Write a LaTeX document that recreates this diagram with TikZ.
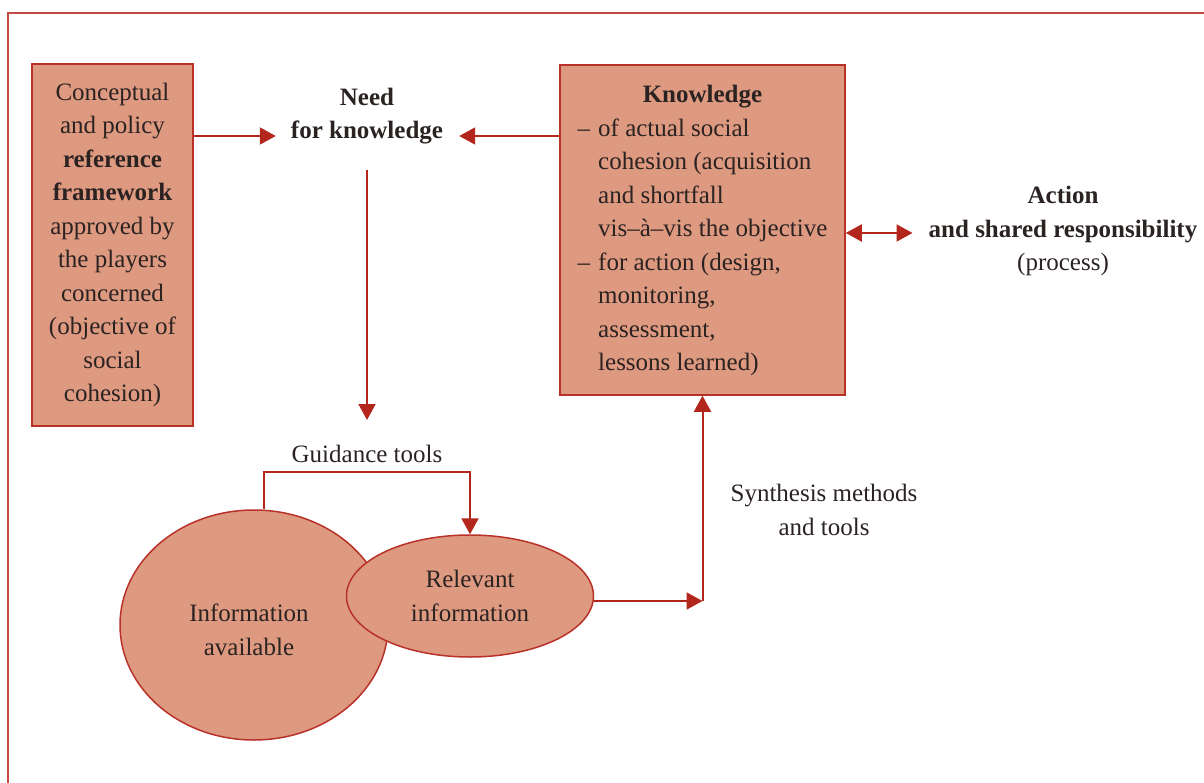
\documentclass[tikz,border=0pt]{standalone}
\usepackage{fontspec}
\setmainfont{Liberation Serif}
\usetikzlibrary{shapes.geometric,arrows.meta}
\definecolor{boxfill}{HTML}{DE9A80}
\definecolor{boxline}{HTML}{B8322A}
\definecolor{arrowred}{HTML}{B2261B}
\definecolor{ink}{HTML}{2B2222}
\definecolor{framered}{HTML}{C44A40}
\begin{document}
\begin{tikzpicture}[x=1pt,y=-1pt,
  every node/.style={font=\fontsize{25}{33.5}\selectfont, text=ink},
  box/.style={draw=boxline, fill=boxfill, line width=1.5pt, inner sep=0pt},
  oval/.style={ellipse, draw=boxline, fill=boxfill, line width=1.5pt, inner sep=0pt, align=center},
  txt/.style={align=center, inner sep=0pt},
  arr/.style={draw=arrowred, line width=2pt, -{Triangle[length=16pt,width=17pt]}},
  arrboth/.style={draw=arrowred, line width=2pt, {Triangle[length=16pt,width=17pt]}-{Triangle[length=16pt,width=17pt]}},
  frame/.style={draw=framered, line width=1.5pt}]
\useasboundingbox (0,0) rectangle (1204,783);
\draw[frame] (8,783) -- (8,13) -- (1204,13);

\node[box, minimum width=161pt, minimum height=362pt, align=center] (ref) at (112.5,245)
  {Conceptual\\and policy\\\textbf{reference}\\\textbf{framework}\\approved by\\the players\\concerned\\(objective of\\social\\cohesion)};

\node[txt] (need) at (367,116) {\textbf{Need}\\\textbf{for knowledge}};

\node[box, minimum width=285pt, minimum height=330pt] (know) at (702.5,230)
  {\begin{tabular}{@{}l@{\hspace{8pt}}l@{}}
   \multicolumn{2}{c}{\textbf{Knowledge}}\\
   –& of actual social\\
    & cohesion (acquisition\\
    & and shortfall\\
    & vis–à–vis the objective\\
   –& for action (design,\\
    & monitoring,\\
    & assessment,\\
    & lessons learned)
   \end{tabular}};

\node[txt] (act) at (1063,231) {\textbf{Action}\\\textbf{and shared responsibility}\\(process)};

\node[txt] (guid) at (367,454) {Guidance tools};

\node[oval, minimum width=268pt, minimum height=230pt] (avail) at (254,625) {};
\node[txt] (availtext) at (249,630) {Information\\available};
\node[oval, minimum width=247pt, minimum height=122pt] (rel) at (470,596) {Relevant\\information};

\node[txt] (syn) at (824,510) {Synthesis methods\\and tools};

\coordinate (needin) at ([xshift=-15pt]need.west);
\coordinate (needout) at ([xshift=16pt]need.east);
\coordinate (actin) at ([xshift=-16pt]act.west);
\coordinate (corner) at (702.5,601);

\draw[arr] (ref.east |- 0,136) -- (needin |- 0,136);
\draw[arr] (know.west |- 0,136) -- (needout |- 0,136);
\draw[arrboth] (know.east |- 0,233) -- (actin |- 0,233);
\draw[arr] (need.south |- 0,170) -- (guid.north |- 0,420);
\draw[arr] ([xshift=10pt]avail.north) -- ++(0,-37) -| (rel.north);
\draw[arr] (rel.east |- corner) -- (corner);
\draw[arr] (corner) -- (know.south);
\end{tikzpicture}
\end{document}
